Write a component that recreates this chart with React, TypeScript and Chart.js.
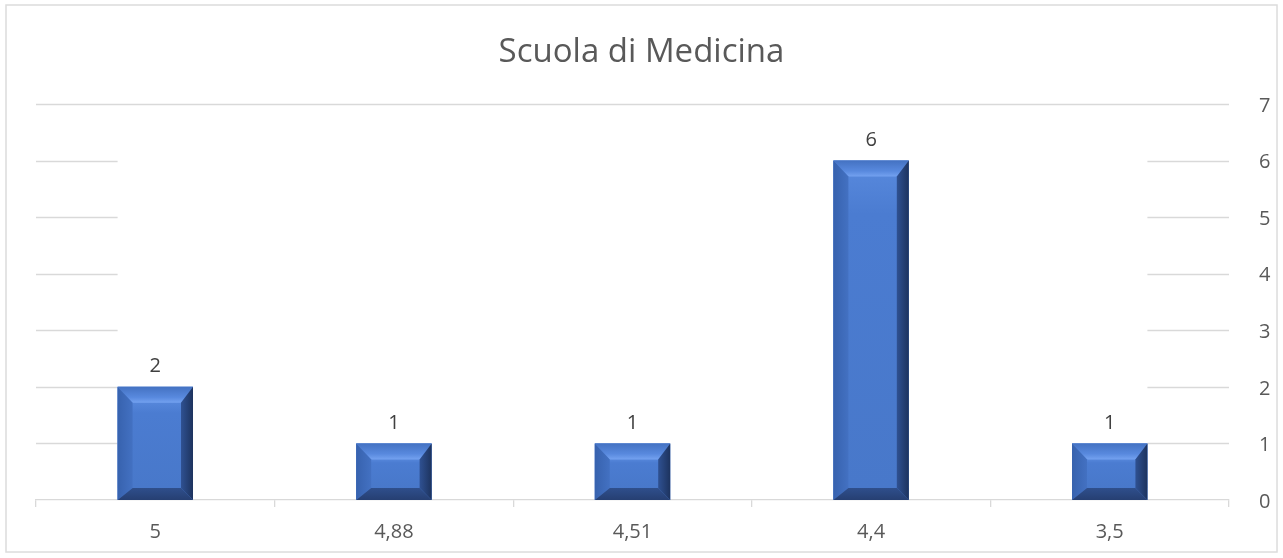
import React, { useEffect, useRef } from 'react';
import { Chart, registerables } from 'chart.js';

Chart.register(...registerables);

const TITLE = 'Scuola di Medicina';
const categories = ['5', '4,88', '4,51', '4,4', '3,5'];
const counts = [2, 1, 1, 6, 1];
const Y_MIN = 0;
const Y_MAX = 7;
const Y_STEP = 1;

const FONT = "'Open Sans', sans-serif";
const TEXT = '#595959';
const LABEL = '#404040';
const GRID = '#d9d9d9';
const FACE = '#4a7bd0';

const W = 1283;
const H = 558;

const bevelPlugin = {
  id: 'bevelAndDecor',
  beforeDraw(chart: any) {
    const ctx = chart.ctx;
    ctx.save();
    ctx.fillStyle = '#ffffff';
    ctx.fillRect(0, 0, chart.width, chart.height);
    ctx.strokeStyle = '#dcdcdc';
    ctx.lineWidth = 1.5;
    ctx.strokeRect(6, 5, 1271, 547);
    ctx.restore();
  },
  beforeDatasetsDraw(chart: any) {
    const ctx = chart.ctx;
    const area = chart.chartArea;
    const y = chart.scales.y;
    const meta = chart.getDatasetMeta(0);
    const bars = meta.data;
    if (!bars.length) return;
    const firstLeft = bars[0].x - bars[0].width / 2;
    const last = bars[bars.length - 1];
    const lastRight = last.x + last.width / 2;
    ctx.save();
    ctx.strokeStyle = GRID;
    ctx.lineWidth = 1.3;
    y.ticks.forEach((t: any) => {
      if (t.value <= Y_MIN) return;
      const py = Math.round(y.getPixelForValue(t.value)) + 0.5;
      ctx.beginPath();
      if (t.value >= Y_MAX) {
        ctx.moveTo(area.left, py);
        ctx.lineTo(area.right, py);
      } else {
        ctx.moveTo(area.left, py);
        ctx.lineTo(firstLeft, py);
        ctx.moveTo(lastRight, py);
        ctx.lineTo(area.right, py);
      }
      ctx.stroke();
    });
    ctx.restore();
  },
  afterDatasetsDraw(chart: any) {
    const ctx = chart.ctx;
    const meta = chart.getDatasetMeta(0);
    const data = chart.data.datasets[0].data;
    ctx.save();
    meta.data.forEach((bar: any, i: number) => {
      const l = bar.x - bar.width / 2;
      const r = bar.x + bar.width / 2;
      const t = bar.y;
      const b = bar.base;
      const h = b - t;
      const bt = Math.min(16, h / 3.4);
      const bb = Math.min(12, h / 4.5);
      const bl = 15;
      const br = 12;

      // face
      const fg = ctx.createLinearGradient(0, t + bt, 0, b - bb);
      fg.addColorStop(0, '#5586da');
      fg.addColorStop(0.12, '#4b7cd1');
      fg.addColorStop(1, '#4878ca');
      ctx.fillStyle = fg;
      ctx.fillRect(l, t, r - l, h);

      // top bevel
      let g = ctx.createLinearGradient(0, t, 0, t + bt);
      g.addColorStop(0, '#4472c2');
      g.addColorStop(0.65, '#5889de');
      g.addColorStop(1, '#74a2f0');
      ctx.fillStyle = g;
      ctx.beginPath();
      ctx.moveTo(l, t);
      ctx.lineTo(r, t);
      ctx.lineTo(r - br, t + bt);
      ctx.lineTo(l + bl, t + bt);
      ctx.closePath();
      ctx.fill();

      // left bevel
      g = ctx.createLinearGradient(l, 0, l + bl, 0);
      g.addColorStop(0, '#3762ae');
      g.addColorStop(1, '#4371c2');
      ctx.fillStyle = g;
      ctx.beginPath();
      ctx.moveTo(l, t);
      ctx.lineTo(l + bl, t + bt);
      ctx.lineTo(l + bl, b - bb);
      ctx.lineTo(l, b);
      ctx.closePath();
      ctx.fill();

      // right bevel
      g = ctx.createLinearGradient(r - br, 0, r, 0);
      g.addColorStop(0, '#2f5192');
      g.addColorStop(1, '#1d335e');
      ctx.fillStyle = g;
      ctx.beginPath();
      ctx.moveTo(r, t);
      ctx.lineTo(r, b);
      ctx.lineTo(r - br, b - bb);
      ctx.lineTo(r - br, t + bt);
      ctx.closePath();
      ctx.fill();

      // bottom bevel
      g = ctx.createLinearGradient(0, b - bb, 0, b);
      g.addColorStop(0, '#2f4f8c');
      g.addColorStop(1, '#263f72');
      ctx.fillStyle = g;
      ctx.beginPath();
      ctx.moveTo(l, b);
      ctx.lineTo(r, b);
      ctx.lineTo(r - br, b - bb);
      ctx.lineTo(l + bl, b - bb);
      ctx.closePath();
      ctx.fill();

      // data label
      ctx.fillStyle = LABEL;
      ctx.font = `20px ${FONT}`;
      ctx.textAlign = 'center';
      ctx.textBaseline = 'alphabetic';
      ctx.fillText(String(data[i]), bar.x, t - 14.5);
    });
    ctx.restore();
  },
};

export default function App() {
  const ref = useRef<HTMLCanvasElement | null>(null);

  useEffect(() => {
    if (!ref.current) return;
    const chart = new Chart(ref.current, {
      type: 'bar',
      data: {
        labels: categories,
        datasets: [
          {
            data: counts,
            backgroundColor: FACE,
            borderWidth: 0,
            categoryPercentage: 1,
            barPercentage: 0.316,
            yAxisID: 'y',
          },
        ],
      },
      options: {
        responsive: false,
        animation: false,
        events: [],
        layout: { padding: { left: 0, right: 0, top: 0, bottom: 0 } },
        plugins: {
          legend: { display: false },
          tooltip: { enabled: false },
          title: {
            display: true,
            text: TITLE,
            color: TEXT,
            font: { family: FONT, size: 33, weight: 'normal', lineHeight: 1.2 },
            padding: { top: 32.4, bottom: 32 },
          },
        },
        scales: {
          x: {
            offset: true,
            grid: {
              display: true,
              offset: true,
              drawOnChartArea: false,
              drawTicks: true,
              tickLength: 7,
              color: GRID,
              lineWidth: 1.3,
            },
            border: { display: true, color: GRID, width: 1.3 },
            ticks: {
              color: TEXT,
              font: { family: FONT, size: 20 },
              padding: 13,
              maxRotation: 0,
            },
            afterFit: (s: any) => {
              s.height = 58;
            },
          },
          y: {
            position: 'right',
            min: Y_MIN,
            max: Y_MAX,
            grid: { display: false },
            border: { display: false },
            ticks: {
              stepSize: Y_STEP,
              color: TEXT,
              font: { family: FONT, size: 20 },
              padding: 22,
              labelOffset: 2,
            },
            afterFit: (s: any) => {
              s.width = 54;
            },
          },
          yLeftSpacer: {
            position: 'left',
            min: Y_MIN,
            max: Y_MAX,
            grid: { display: false },
            border: { display: false },
            ticks: { display: false },
            afterFit: (s: any) => {
              s.width = 36;
            },
          },
        },
      },
      plugins: [bevelPlugin],
    });
    return () => chart.destroy();
  }, []);

  return (
    <div style={{ position: 'absolute', left: 0, top: 0, width: W, height: H }}>
      <canvas ref={ref} width={W} height={H} style={{ display: 'block' }} />
    </div>
  );
}
